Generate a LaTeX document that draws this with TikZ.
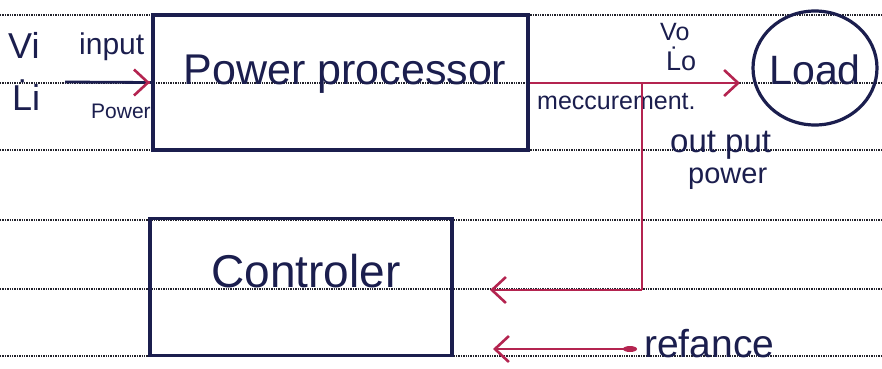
\documentclass[tikz,border=0pt]{standalone}
\usepackage{fontspec}
\setmainfont{Liberation Sans}
\usetikzlibrary{arrows.meta,shapes.geometric,calc}
\definecolor{ink}{HTML}{1B1E4E}
\definecolor{pen}{HTML}{B42450}
\definecolor{rule}{HTML}{22222B}
\tikzset{
  ruling/.style={rule, line width=1.6pt, dash pattern=on 1.4pt off 1.0pt},
  blockbox/.style={draw=ink, line width=3.2pt, rectangle, inner sep=0pt},
  loadring/.style={draw=ink, line width=3.2pt, ellipse, inner sep=0pt},
  barb/.tip={Straight Barb[length=14pt,width=26pt,line width=2.6pt]},
  signal/.style={draw=pen, line width=2.8pt, -{barb}},
  feed/.style={draw=pen, line width=2.8pt},
  handtext/.style={text=ink, inner sep=0pt, anchor=base west},
}
\newcommand{\fs}[1]{\fontsize{#1}{#1}\selectfont}
\begin{document}
\begin{tikzpicture}[x=1pt,y=-1pt]
  \useasboundingbox (0,0) rectangle (882,368);
  \fill[white] (0,0) rectangle (882,368);

  % notebook ruling
  \foreach \yy in {15,83,150,220,289,356}
    \draw[ruling] (0,\yy) -- (882,\yy);

  % blocks
  \node[blockbox, minimum width=375pt, minimum height=135pt] (pp) at (340.5,82.5) {};
  \node[blockbox, minimum width=302pt, minimum height=137pt] (ctrl) at (301,287) {};
  \node[loadring, minimum width=124pt, minimum height=114pt] (load) at (815,68) {};

  % block labels
  \node[handtext, anchor=base] at (345,84) {\fs{43}Power processor};
  \node[handtext, anchor=base] at (306,287) {\fs{46}Controler};
  \node[handtext, anchor=base] at (815,84) {\fs{41}Load};

  % input side
  \coordinate (src) at (65,82);
  \draw[line width=2.8pt, ink] (src) -- (pp.west);
  \draw[pen, line width=2.8pt, {barb}-] ($(pp.west)+(-1.5,0)$) -- +(-0.1,0);
  \node[handtext] at (8,58) {\fs{36}Vi};
  \node[handtext] at (12,110) {\fs{36}\.{L}i};
  \node[handtext] at (79,54) {\fs{30}input};
  \node[handtext] at (91,118) {\fs{21}Power};

  % output path to the load
  \coordinate (outend) at (740,83);
  \coordinate (tap) at (642,83);
  \draw[signal] (pp.east |- outend) -- (outend);
  \node[handtext] at (660,40) {\fs{25}Vo};
  \node[handtext] at (666,70) {\fs{27}\.{L}o};
  \node[handtext] at (537,109) {\fs{25}meccurement.};
  \node[handtext] at (670,152) {\fs{33}out put};
  \node[handtext] at (688,183) {\fs{29}power};

  % measurement feedback into the controller
  \coordinate (fbcorner) at (642,290);
  \coordinate (fbend) at (490,290);
  \draw[feed] (tap) -- (fbcorner);
  \draw[signal] (fbcorner) -- (fbend);

  % reference input
  \coordinate (refsrc) at (630,349);
  \coordinate (refend) at (493,349);
  \draw[signal] (refsrc) -- (refend);
  \fill[pen] (refsrc) ellipse (7pt and 3pt);
  \node[handtext] at (644,357) {\fs{39}refance};
\end{tikzpicture}
\end{document}
